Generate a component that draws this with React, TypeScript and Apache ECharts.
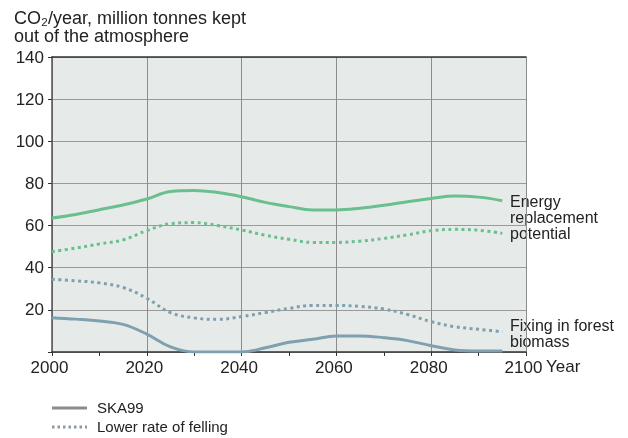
import React, { useEffect, useRef } from "react";
import * as echarts from "echarts";

const years = [2000, 2005, 2010, 2015, 2020, 2025, 2030, 2035, 2040, 2045, 2050, 2055, 2060, 2065, 2070, 2075, 2080, 2085, 2090, 2095];
const energySKA99 = [63.6, 65.3, 67.5, 69.8, 72.6, 76.2, 76.7, 75.7, 73.7, 71.0, 69.0, 67.4, 67.4, 68.2, 69.6, 71.3, 72.9, 74.0, 73.5, 71.8];
const energyLower = [47.6, 49.3, 51.3, 53.2, 57.6, 60.9, 61.4, 60.0, 57.9, 55.4, 53.5, 52.0, 52.0, 52.6, 53.9, 55.6, 57.6, 58.2, 57.8, 56.3];
const forestLower = [34.5, 33.8, 32.8, 30.6, 25.5, 18.7, 16.2, 15.5, 16.8, 18.7, 20.7, 22.1, 22.1, 21.6, 20.4, 17.8, 14.4, 12.0, 10.8, 9.6];
const forestSKA99 = [16.3, 15.6, 14.7, 13.1, 8.5, 2.4, 0.0, 0.0, 0.0, 2.0, 4.6, 6.0, 7.6, 7.6, 6.8, 5.4, 3.0, 1.0, 0.5, 0.5];
const legendItems = ["SKA99", "Lower rate of felling"];

const FONT = "'Liberation Sans', Arial, Helvetica, sans-serif";
const GREEN = "#6abf8e";
const BLUE = "#7fa0af";

const pairs = (vals: number[]) => years.map((y, i) => [y, vals[i]]);

export default function App() {
  const ref = useRef<HTMLDivElement>(null);
  useEffect(() => {
    const chart = echarts.init(ref.current!, null, { renderer: "svg" });
    const solid = (color: string) => ({ color, width: 3, type: "solid" as const });
    const dotted = (color: string) => ({ color, width: 3, type: [3, 3.5] as any, cap: "butt" as const });
    chart.setOption({
      animation: false,
      textStyle: { fontFamily: FONT },
      grid: {
        left: 52,
        right: 102,
        top: 57,
        bottom: 86,
        show: true,
        backgroundColor: "#e6ebe9",
        borderWidth: 0,
      },
      xAxis: [
        {
          type: "value",
          min: 2000,
          max: 2100,
          interval: 20,
          axisLine: { show: true, lineStyle: { color: "#333", width: 1.5 } },
          axisTick: { show: true, length: 4, lineStyle: { color: "#333" } },
          minorTick: { show: true, splitNumber: 2, length: 4, lineStyle: { color: "#333" } },
          axisLabel: {
            fontSize: 17,
            color: "#222",
            margin: 7,
            padding: [0, 5, 0, 0],
            fontFamily: FONT,
            formatter: (v: number) => String(v),
          },
          splitLine: { show: true, lineStyle: { color: "#8c8c8c", width: 1 } },
        },
        {
          type: "value",
          position: "top",
          min: 2000,
          max: 2100,
          axisLine: { show: true, lineStyle: { color: "#333", width: 1.5 } },
          axisTick: { show: false },
          axisLabel: { show: false },
          splitLine: { show: false },
        },
      ],
      yAxis: {
        type: "value",
        min: 0,
        max: 140,
        interval: 20,
        axisLine: { show: true, lineStyle: { color: "#555", width: 1.5 } },
        axisTick: { show: true, length: 4, lineStyle: { color: "#333" } },
        axisLabel: { fontSize: 17, color: "#222", margin: 8, fontFamily: FONT, formatter: (v: number) => (v === 0 ? "" : String(v)) },
        splitLine: { show: true, lineStyle: { color: "#9a9a9a", width: 1 } },
      },
      series: [
        { name: "Energy SKA99", type: "line", data: pairs(energySKA99), smooth: 0.4, symbol: "none", lineStyle: solid(GREEN) },
        { name: "Energy lower", type: "line", data: pairs(energyLower), smooth: 0.4, symbol: "none", lineStyle: dotted(GREEN) },
        { name: "Forest lower", type: "line", data: pairs(forestLower), smooth: 0.4, symbol: "none", lineStyle: dotted(BLUE) },
        { name: "Forest SKA99", type: "line", data: pairs(forestSKA99), smooth: 0.4, symbol: "none", lineStyle: solid(BLUE) },
      ],
      graphic: [
        {
          type: "text",
          left: 14,
          top: 9,
          style: { text: "CO₂/year, million tonnes kept", fontSize: 18, lineHeight: 18, fill: "#222", fontFamily: FONT },
        },
        {
          type: "text",
          left: 14,
          top: 27,
          style: { text: "out of the atmosphere", fontSize: 18, lineHeight: 18, fill: "#222", fontFamily: FONT },
        },
        { type: "text", left: 546, top: 358, style: { text: "Year", fontSize: 17, fill: "#222", fontFamily: FONT } },
        {
          type: "text",
          left: 510,
          top: 193,
          style: { text: "Energy\nreplacement\npotential", fontSize: 16, lineHeight: 16, fill: "#222", fontFamily: FONT },
        },
        {
          type: "text",
          left: 510,
          top: 317,
          style: { text: "Fixing in forest\nbiomass", fontSize: 16, lineHeight: 16, fill: "#222", fontFamily: FONT },
        },
        { type: "line", shape: { x1: 52, y1: 408, x2: 87, y2: 408 }, style: { stroke: "#8c8c8c", lineWidth: 3 } },
        { type: "line", shape: { x1: 52, y1: 427, x2: 87, y2: 427 }, style: { stroke: "#8c9aa3", lineWidth: 3, lineDash: [2.5, 3] } },
        { type: "text", left: 97, top: 400, style: { text: legendItems[0], fontSize: 15, fill: "#222", fontFamily: FONT } },
        { type: "text", left: 97, top: 419, style: { text: legendItems[1], fontSize: 15, fill: "#222", fontFamily: FONT } },
      ],
    });
    return () => chart.dispose();
  }, []);
  return <div ref={ref} style={{ width: 628, height: 438, position: "fixed", left: 0, top: 0 }} />;
}
